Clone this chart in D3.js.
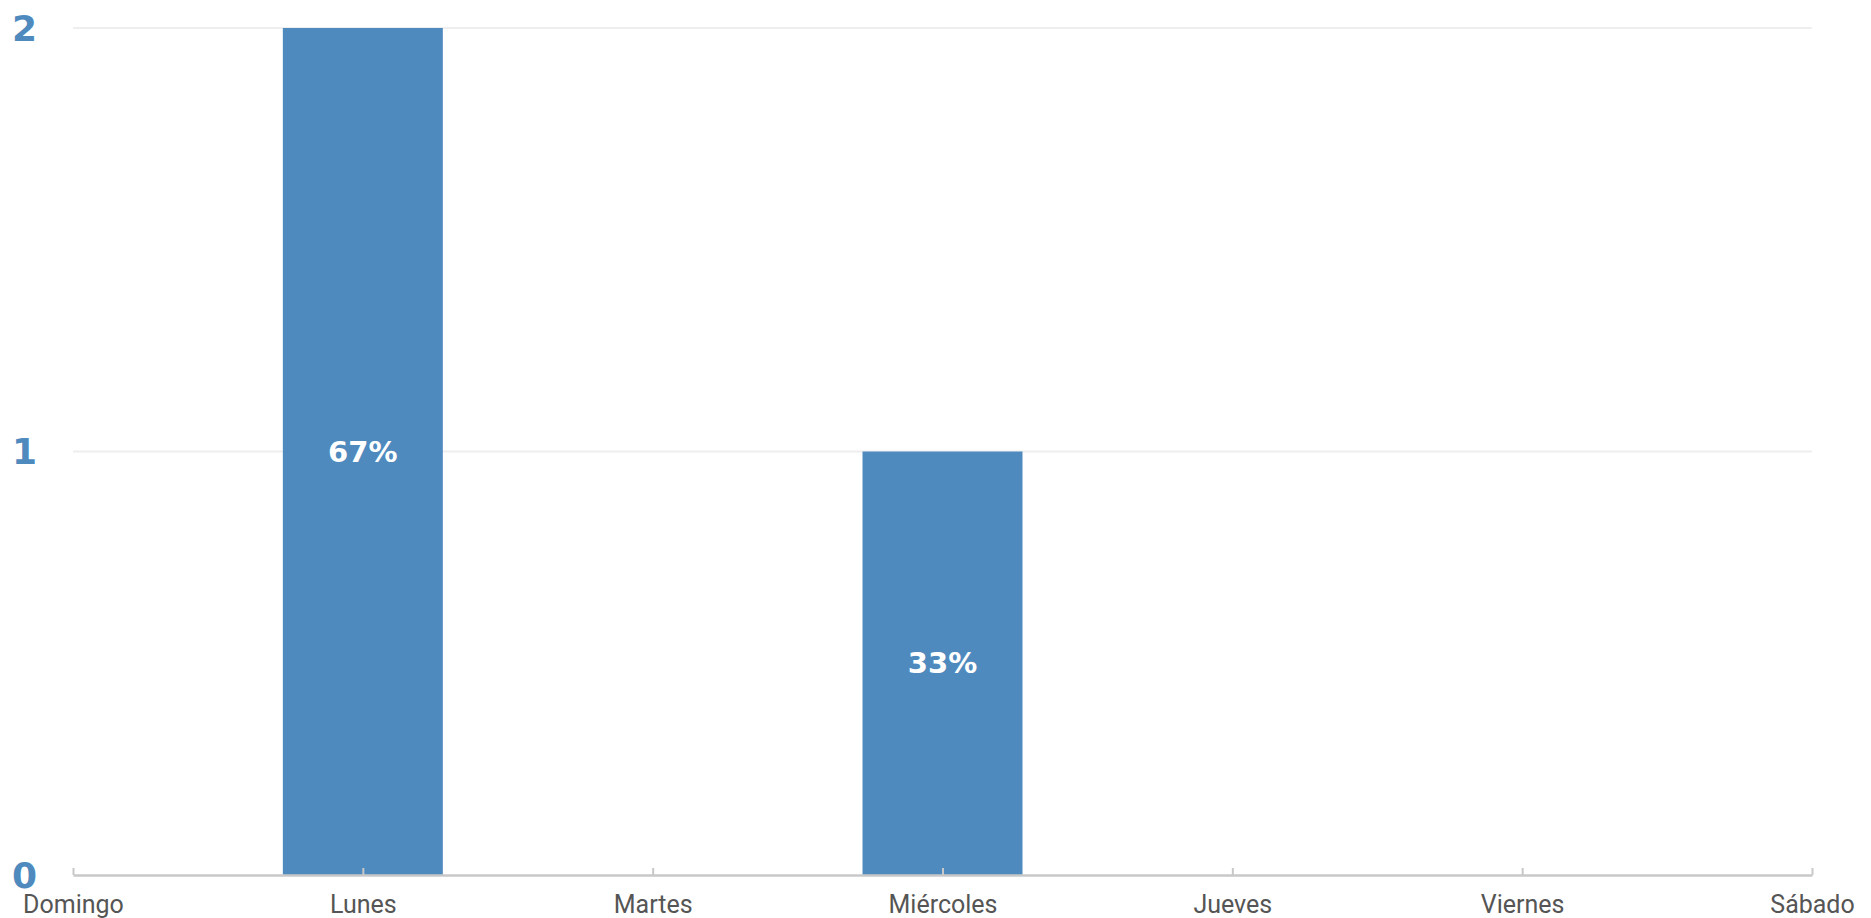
<!DOCTYPE html>
<html>
<head>
<meta charset="utf-8">
<script src="https://cdn.jsdelivr.net/npm/d3@7"></script>
<style>
  html, body { margin: 0; padding: 0; background: #ffffff; }
  svg { display: block; }
</style>
</head>
<body>
<svg id="chart" width="1871" height="918"></svg>
<script>
const days = ["Domingo", "Lunes", "Martes", "Miércoles", "Jueves", "Viernes", "Sábado"];
const counts = [0, 2, 0, 1, 0, 0, 0];
const yTicks = [0, 1, 2];

const W = 1871, H = 918;
const margin = { left: 73, right: 59, top: 28, bottom: 43 };
const svg = d3.select("#chart");

const x = d3.scalePoint().domain(days).range([margin.left, W - margin.right]);
const y = d3.scaleLinear().domain([0, 2]).range([H - margin.bottom, margin.top]);
const barW = x.step() * 0.552;
const total = d3.sum(counts);
const pct = d3.format(".0%");
const blue = "#4f8abe";

// gridlines
svg.append("g").selectAll("line").data(yTicks.filter(d => d > 0)).join("line")
  .attr("x1", margin.left).attr("x2", W - margin.right)
  .attr("y1", d => y(d)).attr("y2", d => y(d))
  .attr("stroke", "#eeeeee").attr("stroke-width", 1.8);

// y labels
svg.append("g").selectAll("text").data(yTicks).join("text")
  .attr("x", 37).attr("y", d => y(d))
  .attr("text-anchor", "end").attr("dominant-baseline", "central")
  .attr("font-family", "'DejaVu Sans', sans-serif").attr("font-weight", "bold")
  .attr("font-size", 36).attr("fill", blue)
  .text(d => d);

// bars
const data = days.map((d, i) => ({ day: d, v: counts[i] })).filter(d => d.v > 0);
svg.append("g").selectAll("rect").data(data).join("rect")
  .attr("x", d => x(d.day) - barW / 2).attr("width", barW)
  .attr("y", d => y(d.v)).attr("height", d => y(0) - y(d.v))
  .attr("fill", blue);

// bar labels
svg.append("g").selectAll("text").data(data).join("text")
  .attr("x", d => x(d.day)).attr("y", d => (y(d.v) + y(0)) / 2)
  .attr("text-anchor", "middle").attr("dominant-baseline", "central")
  .attr("font-family", "'DejaVu Sans', sans-serif").attr("font-weight", "bold")
  .attr("font-size", 29).attr("fill", "#ffffff")
  .text(d => pct(d.v / total));

// x axis
const xAxis = d3.axisBottom(x).tickSize(-7).tickSizeOuter(0).tickPadding(20);
const gx = svg.append("g").attr("transform", `translate(0,${y(0)})`).call(xAxis);
gx.select(".domain").attr("stroke", "#c8c8c8").attr("stroke-width", 2.6);
gx.selectAll(".tick line").attr("stroke", "#c8c8c8").attr("stroke-width", 2);
gx.selectAll(".tick text")
  .attr("font-family", "Roboto, 'Liberation Sans', sans-serif")
  .attr("font-size", 25).attr("fill", "#555555");
</script>
</body>
</html>
